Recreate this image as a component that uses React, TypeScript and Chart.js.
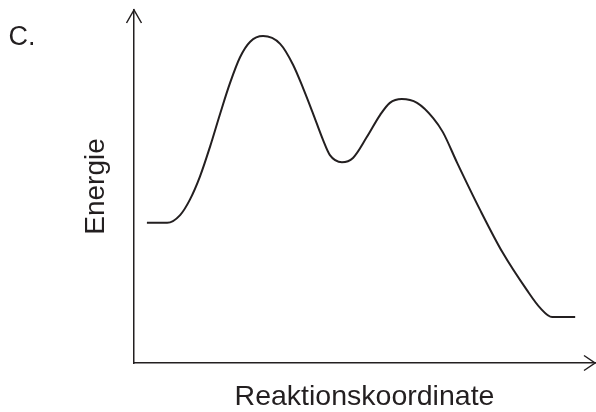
import React, { useEffect, useRef } from "react";
import { Chart, registerables } from "chart.js";

Chart.register(...registerables);

// Reaction coordinate (arbitrary units 0–100) and energy (arbitrary units 0–100)
const reactionCoordinate = [2.8, 7.2, 10.0, 12.1, 14.3, 16.5, 18.7, 20.8, 23.0, 25.2, 28.0, 31.7, 34.5, 36.7, 38.8, 41.0, 42.5, 45.1, 47.5, 50.5, 53.4, 55.5, 58.1, 61.4, 64.9, 67.0, 70.1, 75.1, 80.0, 85.2, 88.1, 90.7, 95.7];
const energy = [39.7, 39.7, 41.9, 46.2, 52.8, 61.3, 70.7, 79.2, 86.6, 91.0, 92.6, 90.4, 84.5, 77.8, 70.8, 63.2, 58.9, 56.9, 58.1, 64.0, 70.3, 73.7, 74.8, 73.7, 69.4, 65.4, 56.7, 43.3, 31.2, 20.7, 15.6, 13.0, 13.0];

const xAxisTitle = "Reaktionskoordinate";
const yAxisTitle = "Energie";
const panelLabel = "C.";

const INK = "#231f20";
const FONT = "'Liberation Sans', Arial, Helvetica, sans-serif";

const arrowPlugin = {
  id: "axisArrows",
  afterDraw(chart: any) {
    const { ctx, chartArea } = chart;
    const { left, top, right, bottom } = chartArea;
    ctx.save();
    ctx.strokeStyle = INK;
    ctx.lineWidth = 1.5;
    ctx.lineCap = "butt";
    ctx.lineJoin = "miter";
    ctx.beginPath();
    ctx.moveTo(left - 7.5, top + 13);
    ctx.lineTo(left, top);
    ctx.lineTo(left + 7.5, top + 13);
    ctx.moveTo(right - 11, bottom - 7.5);
    ctx.lineTo(right, bottom);
    ctx.lineTo(right - 11, bottom + 7.5);
    ctx.stroke();
    ctx.restore();
  },
};

export default function App() {
  const canvasRef = useRef<HTMLCanvasElement | null>(null);

  useEffect(() => {
    if (!canvasRef.current) return;
    const points = reactionCoordinate.map((x, i) => ({ x, y: energy[i] }));
    const chart = new Chart(canvasRef.current, {
      type: "line",
      data: {
        datasets: [
          {
            data: points,
            borderColor: INK,
            borderWidth: 2,
            pointRadius: 0,
            fill: false,
            cubicInterpolationMode: "monotone",
          },
        ],
      },
      options: {
        animation: false,
        responsive: true,
        maintainAspectRatio: false,
        devicePixelRatio: 1,
        events: [],
        layout: { padding: { left: 0, top: 10, right: 1, bottom: 0 } },
        plugins: {
          legend: { display: false },
          tooltip: { enabled: false },
          title: { display: false },
        },
        scales: {
          x: {
            type: "linear",
            min: 0,
            max: 100,
            grid: { display: false, drawTicks: false },
            border: { display: true, color: INK, width: 1.5 },
            ticks: { display: false },
            title: {
              display: true,
              text: xAxisTitle,
              color: INK,
              font: { family: FONT, size: 28.5, lineHeight: 1 },
              padding: { top: 19.5, bottom: 1 },
            },
          },
          y: {
            type: "linear",
            min: 0,
            max: 100,
            grid: { display: false, drawTicks: false },
            border: { display: true, color: INK, width: 1.5 },
            ticks: { display: false },
            title: {
              display: true,
              text: yAxisTitle,
              color: INK,
              font: { family: FONT, size: 28, lineHeight: 1 },
              padding: { top: 82, bottom: 24 },
            },
          },
        },
      },
      plugins: [arrowPlugin],
    });
    return () => chart.destroy();
  }, []);

  return (
    <div style={{ position: "fixed", left: 0, top: 0, width: 596, height: 412, background: "#fff" }}>
      <canvas ref={canvasRef} />
      <div
        style={{
          position: "absolute",
          left: 8.5,
          top: 23,
          fontFamily: FONT,
          fontSize: 27,
          lineHeight: "27px",
          color: INK,
        }}
      >
        {panelLabel}
      </div>
    </div>
  );
}
